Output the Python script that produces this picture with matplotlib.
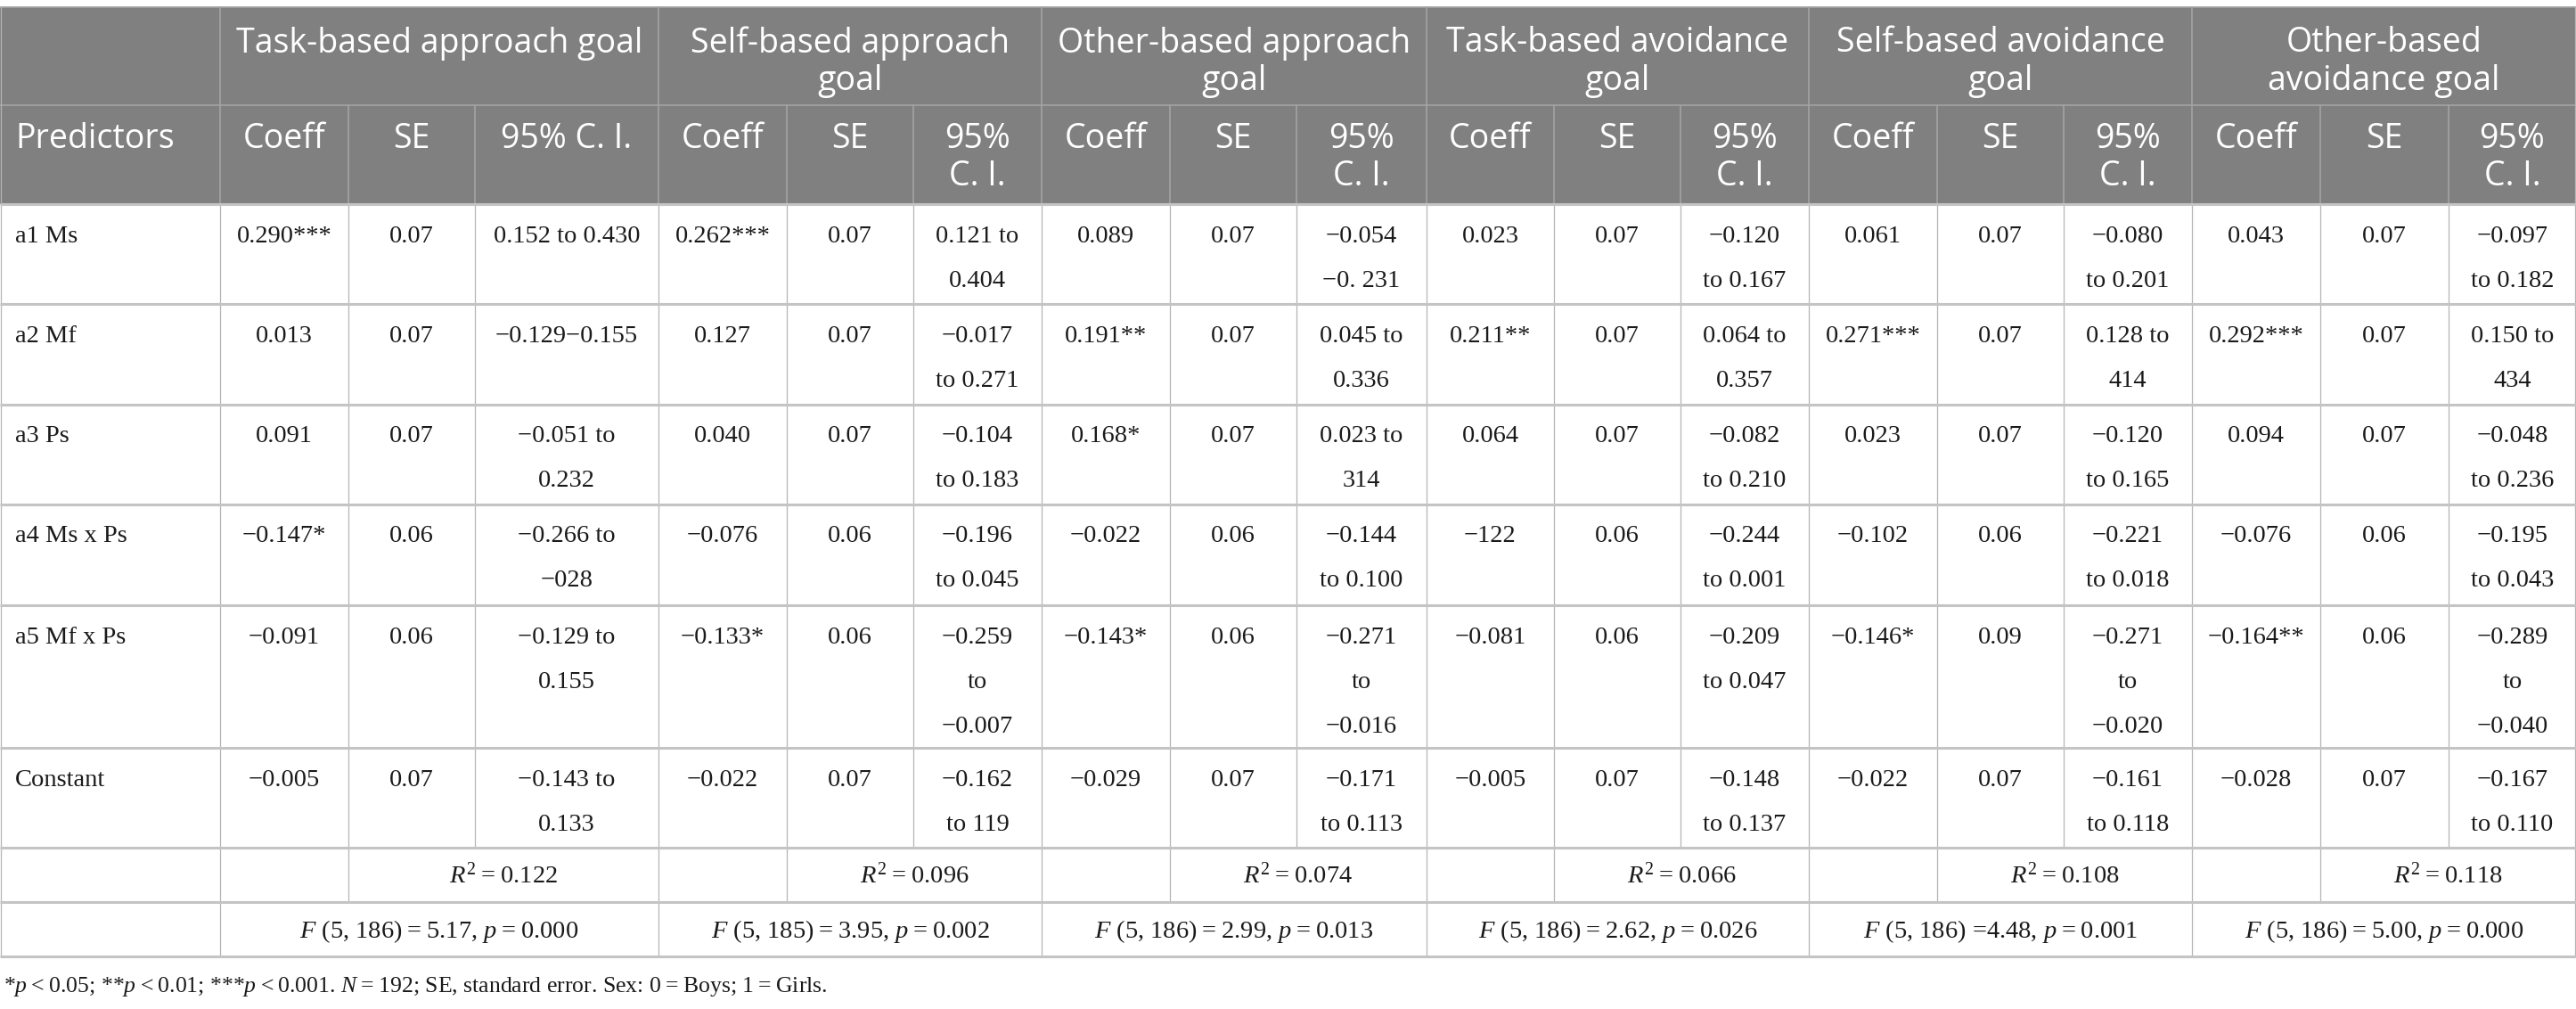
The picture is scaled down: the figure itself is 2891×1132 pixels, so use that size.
import matplotlib
matplotlib.use("Agg")
import matplotlib.pyplot as plt
from matplotlib.patches import Rectangle

plt.rcParams['mathtext.fontset'] = 'custom'
plt.rcParams['mathtext.rm'] = 'Liberation Serif'
plt.rcParams['mathtext.it'] = 'Liberation Serif:italic'

# ---------------- data ----------------
groups = ["Task-based approach goal", "Self-based approach\ngoal", "Other-based approach\ngoal",
          "Task-based avoidance\ngoal", "Self-based avoidance\ngoal", "Other-based\navoidance goal"]
sub_headers_first = ["Coeff", "SE", "95% C. I."]
sub_headers = ["Coeff", "SE", "95%\nC. I."]
row_label_header = "Predictors"
predictors = ["a1 Ms", "a2 Mf", "a3 Ps", "a4 Ms x Ps", "a5 Mf x Ps", "Constant"]

coeff = [
    ["0.290***", "0.262***", "0.089", "0.023", "0.061", "0.043"],
    ["0.013", "0.127", "0.191**", "0.211**", "0.271***", "0.292***"],
    ["0.091", "0.040", "0.168*", "0.064", "0.023", "0.094"],
    ["\u22120.147*", "\u22120.076", "\u22120.022", "\u2212122", "\u22120.102", "\u22120.076"],
    ["\u22120.091", "\u22120.133*", "\u22120.143*", "\u22120.081", "\u22120.146*", "\u22120.164**"],
    ["\u22120.005", "\u22120.022", "\u22120.029", "\u22120.005", "\u22120.022", "\u22120.028"],
]
se = [
    ["0.07", "0.07", "0.07", "0.07", "0.07", "0.07"],
    ["0.07", "0.07", "0.07", "0.07", "0.07", "0.07"],
    ["0.07", "0.07", "0.07", "0.07", "0.07", "0.07"],
    ["0.06", "0.06", "0.06", "0.06", "0.06", "0.06"],
    ["0.06", "0.06", "0.06", "0.06", "0.09", "0.06"],
    ["0.07", "0.07", "0.07", "0.07", "0.07", "0.07"],
]
ci = [
    ["0.152 to 0.430", "0.121 to\n0.404", "\u22120.054\n\u22120. 231", "\u22120.120\nto 0.167",
     "\u22120.080\nto 0.201", "\u22120.097\nto 0.182"],
    ["\u22120.129\u22120.155", "\u22120.017\nto 0.271", "0.045 to\n0.336", "0.064 to\n0.357",
     "0.128 to\n414", "0.150 to\n434"],
    ["\u22120.051 to\n0.232", "\u22120.104\nto 0.183", "0.023 to\n314", "\u22120.082\nto 0.210",
     "\u22120.120\nto 0.165", "\u22120.048\nto 0.236"],
    ["\u22120.266 to\n\u2212028", "\u22120.196\nto 0.045", "\u22120.144\nto 0.100", "\u22120.244\nto 0.001",
     "\u22120.221\nto 0.018", "\u22120.195\nto 0.043"],
    ["\u22120.129 to\n0.155", "\u22120.259\nto\n\u22120.007", "\u22120.271\nto\n\u22120.016",
     "\u22120.209\nto 0.047", "\u22120.271\nto\n\u22120.020", "\u22120.289\nto\n\u22120.040"],
    ["\u22120.143 to\n0.133", "\u22120.162\nto 119", "\u22120.171\nto 0.113", "\u22120.148\nto 0.137",
     "\u22120.161\nto 0.118", "\u22120.167\nto 0.110"],
]
r2 = ["0.122", "0.096", "0.074", "0.066", "0.108", "0.118"]
f_df = ["5, 186", "5, 185", "5, 186", "5, 186", "5, 186", "5, 186"]
f_val = ["\u2009=\u20095.17", "\u2009=\u20093.95", "\u2009=\u20092.99", "\u2009=\u20092.62",
         " =4.48", "\u2009=\u20095.00"]
p_val = ["0.000", "0.002", "0.013", "0.026", "0.001", "0.000"]
footnote = ("*$p$\u2009<\u20090.05; **$p$\u2009<\u20090.01; ***$p$\u2009<\u20090.001. "
            "$N$\u2009=\u2009192; SE, standard error. Sex: 0\u2009=\u2009Boys; 1\u2009=\u2009Girls.")

# ---------------- layout ----------------
W, H = 2891, 1132
fig = plt.figure(figsize=(W / 100, H / 100), dpi=100)
ax = fig.add_axes([0, 0, 1, 1])
ax.set_xlim(0, W)
ax.set_ylim(H, 0)
ax.axis('off')

xb = [0, 247, 391, 533, 739, 883, 1025, 1169, 1313, 1455, 1601, 1744, 1886,
      2030, 2174, 2316, 2460, 2604, 2748, 2891]
yb = [8, 118, 229, 341, 454, 566, 679, 839, 951, 1012, 1073]
grp_x = [xb[1 + 3 * g] for g in range(7)]

HEAD_BG = '#7f807f'
HEAD_LINE = '#a3a3a3'
GRID_V = '#b5b5b5'
GRID_H = '#c4c4c4'
TXT = '#1a1a1a'

serif = ['Liberation Serif', 'DejaVu Serif']
sans = ['Open Sans', 'DejaVu Sans']
BODY_FS = 20.5
HEAD_FS = 27

# header background
ax.add_patch(Rectangle((0, yb[0]), W, yb[2] - yb[0], facecolor=HEAD_BG, edgecolor='none', zorder=0))

# header lines
ax.plot([0, W], [yb[0], yb[0]], color=HEAD_LINE, lw=1.2, zorder=1)
ax.plot([0, W], [yb[1], yb[1]], color=HEAD_LINE, lw=1.2, zorder=1)
for x in grp_x[:-1]:
    ax.plot([x, x], [yb[0], yb[1]], color=HEAD_LINE, lw=1.2, zorder=1)
for x in xb[1:-1]:
    ax.plot([x, x], [yb[1], yb[2]], color=HEAD_LINE, lw=1.2, zorder=1)


def draw_lines(text, x, y_first, step, ha, fs, family, color, cap):
    for i, line in enumerate(text.split('\n')):
        ax.text(x, y_first + i * step + cap / 2, line, ha=ha, va='baseline', fontsize=fs,
                family=family, color=color, zorder=3)


# header texts
for g in range(6):
    cx = (grp_x[g] + grp_x[g + 1]) / 2
    draw_lines(groups[g], cx, yb[0] + 37, 42, 'center', HEAD_FS, sans, 'white', 27)
    subs = sub_headers_first if g == 0 else sub_headers
    for k in range(3):
        c = 1 + 3 * g + k
        cx = (xb[c] + xb[c + 1]) / 2
        draw_lines(subs[k], cx, yb[1] + 35, 42, 'center', HEAD_FS, sans, 'white', 27)
draw_lines(row_label_header, 17, yb[1] + 35, 42, 'left', HEAD_FS, sans, 'white', 27)

# body rows
for r in range(6):
    top = yb[2 + r]
    draw_lines(predictors[r], 17, top + 33, 50, 'left', BODY_FS, serif, TXT, 19)
    for g in range(6):
        vals = [coeff[r][g], se[r][g], ci[r][g]]
        for k in range(3):
            c = 1 + 3 * g + k
            cx = (xb[c] + xb[c + 1]) / 2
            draw_lines(vals[k], cx, top + 33, 50, 'center', BODY_FS, serif, TXT, 19)

# R2 row and F row
for g in range(6):
    x0 = xb[2 + 3 * g]
    x1 = grp_x[g + 1]
    ax.text((x0 + x1) / 2, (yb[8] + yb[9]) / 2 + 9.5, "$R^2$\u2009=\u2009" + r2[g], ha='center',
            va='baseline', fontsize=BODY_FS, family=serif, color=TXT, zorder=3)
    ftxt = "$F$ (" + f_df[g] + ")" + f_val[g] + ", $p$\u2009=\u2009" + p_val[g]
    ax.text((grp_x[g] + x1) / 2, (yb[9] + yb[10]) / 2 + 9.5, ftxt, ha='center',
            va='baseline', fontsize=BODY_FS, family=serif, color=TXT, zorder=3)

# body grid: horizontal
for y in yb[2:]:
    ax.plot([0, W], [y, y], color=GRID_H, lw=2.2, zorder=2, solid_capstyle='butt')
# body grid: vertical
for x in xb[1:-1]:
    ax.plot([x, x], [yb[2], yb[8]], color=GRID_V, lw=0.9, zorder=1)
r2_lines = sorted(set(grp_x[:-1] + [xb[2 + 3 * g] for g in range(6)]))
for x in r2_lines:
    ax.plot([x, x], [yb[8], yb[9]], color=GRID_V, lw=0.9, zorder=1)
for x in grp_x[:-1]:
    ax.plot([x, x], [yb[9], yb[10]], color=GRID_V, lw=0.9, zorder=1)
for x in [0.6, W - 0.6]:
    ax.plot([x, x], [yb[0], yb[10]], color=GRID_V, lw=0.9, zorder=1)

# footnote
ax.text(4, 1105 + 8.5, footnote, ha='left', va='baseline', fontsize=18.5,
        family=serif, color=TXT)

fig.savefig('out.png', dpi=100)
